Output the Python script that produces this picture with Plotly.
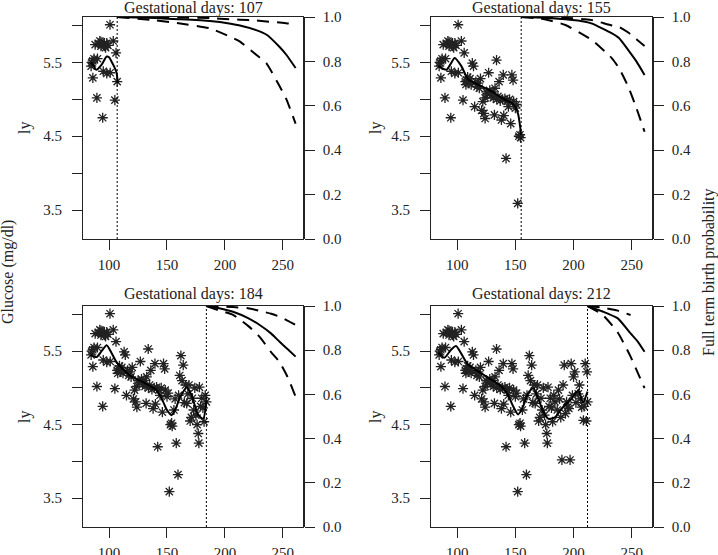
import plotly.graph_objects as go

# observed log-glucose values (ly) by gestational day
obs_day = [84.5, 85, 86, 86, 87, 88, 89.5, 90, 91, 92, 93, 93, 94.5, 95, 96, 96, 97, 98, 98, 99,
           100.8, 101, 103.6, 105, 106, 107, 107.5,
           108, 109, 110, 111, 112, 113, 114, 115, 116, 117, 118, 119, 120, 121, 122, 123, 124,
           124, 125, 126, 127, 128, 129,
           130, 131, 132, 132.5, 133.8, 134, 135, 136, 137, 138, 139, 139.6, 140, 141, 142, 143,
           144, 145, 146, 147, 148, 148.5, 150, 151, 152, 153, 154, 154.5,
           156, 157, 158, 159.5, 160, 161, 162, 163, 164, 165, 166, 167, 168, 169, 170, 171, 172,
           173, 174, 175, 176, 177, 177.5, 178, 179, 180, 181, 182, 183, 184,
           186, 187, 188, 189, 190, 191, 192, 193, 194, 195, 196, 197, 198, 199, 200, 201, 202,
           204, 205, 206, 207, 208.5, 209, 210, 211, 211.5, 212]
obs_ly = [5.45, 5.5, 5.29, 5.52, 5.55, 5.74, 5.02, 5.55, 5.75, 5.79, 5.72, 5.78, 4.75, 5.38, 5.72,
          5.76, 5.7, 5.76, 5.35, 5.73,
          6.01, 5.36, 5.79, 4.99, 5.63, 5.24, 5.2,
          5.26, 5.3, 5.22, 5.28, 5.2, 5.49, 5.45, 4.9, 5.24, 5.17, 5.22, 5.15, 5.28, 4.85, 4.97,
          4.81, 4.74, 5.02, 5.1, 5.08, 5.36, 5.12, 5.05,
          5.1, 5.02, 4.79, 5.15, 5.53, 5.0, 5.04, 5.24, 4.98, 4.72, 5.0, 5.33, 4.78, 5.01, 4.2,
          4.97, 4.9, 5.0, 4.67, 5.33, 5.26, 4.97, 4.88, 4.93, 3.59, 4.5, 4.52, 4.48,
          4.7, 4.85, 4.25, 3.82, 4.9, 5.17, 5.44, 5.1, 5.31, 4.8, 5.04, 4.79, 4.92, 5.04, 4.55,
          4.6, 4.86, 4.7, 5.0, 4.63, 4.5, 4.38, 4.25, 5.01, 4.75, 4.86, 4.73, 4.54, 4.9, 4.81,
          4.7, 4.97, 4.85, 4.6, 4.02, 5.04, 5.31, 4.65, 4.81, 4.74, 4.72, 4.02, 5.33, 4.9, 5.15,
          5.22, 4.8, 4.92, 5.04, 4.85, 4.74, 4.56, 4.75, 5.33, 4.55, 5.22, 4.81]

panel_days = [107, 155, 184, 212]

# smoothed fit up to the current day
smooth_day_107 = [84, 86, 89, 93.6, 97.9, 100, 102.2, 104.5, 106.5, 107.5]
smooth_ly_107 = [5.5, 5.47, 5.40, 5.47, 5.58, 5.57, 5.51, 5.44, 5.36, 5.22]
smooth_day_155 = [84, 90.7, 94, 97.9, 103.6, 109.4, 118, 129.5, 138.1, 146.7, 150, 152.5, 155]
smooth_ly_155 = [5.45, 5.40, 5.47, 5.56, 5.45, 5.27, 5.2, 5.11, 5.02, 4.95, 4.9, 4.79, 4.52]
smooth_day_184 = [84, 89.3, 93.5, 97.9, 102, 106.5, 118, 129.5, 141, 146.7, 150, 153.9, 157,
                  161, 166.9, 171.2, 177, 181.3, 184]
smooth_ly_184 = [5.45, 5.42, 5.5, 5.58, 5.48, 5.35, 5.17, 5.08, 4.97, 4.81, 4.7, 4.63, 4.7,
                 4.86, 5.01, 4.9, 4.63, 4.58, 4.83]
smooth_day_212 = [84, 89, 94.7, 99, 103.4, 109.1, 117.7, 126.4, 138.1, 143.8, 148.1, 152.4,
                  156.7, 161, 165.4, 169.7, 174, 178.4, 184, 189.8, 198.5, 204.2, 208, 212]
smooth_ly_212 = [5.48, 5.41, 5.52, 5.57, 5.47, 5.32, 5.23, 5.14, 5.02, 4.9, 4.75, 4.64,
                 4.75, 4.93, 5.0, 4.85, 4.68, 4.58, 4.6, 4.72, 4.86, 4.97, 4.8, 4.95]

# full term birth probability (estimate, upper and lower band)
surv_day_107 = [107, 140, 160, 187, 205, 213, 227, 236, 247, 253, 261]
surv_mid_107 = [1.0, 0.995, 0.99, 0.982, 0.97, 0.962, 0.941, 0.92, 0.866, 0.83, 0.77]
surv_hi_107 = [1.0, 0.999, 0.998, 0.995, 0.99, 0.988, 0.984, 0.98, 0.975, 0.972, 0.965]
surv_lo_107 = [1.0, 0.985, 0.972, 0.949, 0.91, 0.889, 0.83, 0.79, 0.69, 0.63, 0.52]
surv_day_155 = [155, 175, 193, 210, 216, 233, 239, 247, 254, 261]
surv_mid_155 = [1.0, 0.997, 0.99, 0.979, 0.97, 0.926, 0.905, 0.851, 0.80, 0.739]
surv_hi_155 = [1.0, 0.999, 0.996, 0.99, 0.986, 0.962, 0.956, 0.93, 0.90, 0.869]
surv_lo_155 = [1.0, 0.99, 0.964, 0.915, 0.896, 0.814, 0.77, 0.686, 0.59, 0.483]
surv_day_184 = [184, 195, 207, 220, 230, 240, 247, 254, 261]
surv_mid_184 = [1.0, 0.99, 0.974, 0.945, 0.914, 0.875, 0.839, 0.805, 0.771]
surv_hi_184 = [1.0, 0.998, 0.995, 0.99, 0.978, 0.965, 0.952, 0.934, 0.914]
surv_lo_184 = [1.0, 0.98, 0.96, 0.91, 0.86, 0.79, 0.748, 0.68, 0.59]
surv_day_212 = [212, 225, 238, 249, 255, 261]
surv_mid_212 = [1.0, 0.975, 0.944, 0.876, 0.84, 0.793]
surv_hi_212 = [1.0, 0.993, 0.979, 0.959, None, None]
surv_lo_212 = [1.0, 0.96, 0.88, 0.771, 0.70, 0.628]

smooths = [(smooth_day_107, smooth_ly_107), (smooth_day_155, smooth_ly_155),
           (smooth_day_184, smooth_ly_184), (smooth_day_212, smooth_ly_212)]
survs = [(surv_day_107, surv_mid_107, surv_hi_107, surv_lo_107),
         (surv_day_155, surv_mid_155, surv_hi_155, surv_lo_155),
         (surv_day_184, surv_mid_184, surv_hi_184, surv_lo_184),
         (surv_day_212, surv_mid_212, surv_hi_212, surv_lo_212)]

W, H = 718, 555
FONT = "Liberation Serif"
INK = "#222222"

x_doms = [[83 / W, 303 / W], [431 / W, 652 / W]]
y_doms = [[1 - 239 / H, 1 - 17 / H], [1 - 527 / H, 1 - 306 / H]]

fig = go.Figure()
layout = {}
annotations = []


def note(text, x_px, y_px, angle=0):
    return dict(text=text, xref="paper", yref="paper", x=x_px / W, y=1 - y_px / H,
                xanchor="center", yanchor="middle", textangle=angle, showarrow=False,
                font=dict(family=FONT, size=16, color=INK))


for k, d in enumerate(panel_days):
    n = k + 1
    xa, yl, yr = f"x{n}", f"y{2 * n - 1}", f"y{2 * n}"
    xd = x_doms[k % 2]
    yd = y_doms[k // 2]

    px = [a for a in obs_day if a <= d]
    py = [b for a, b in zip(obs_day, obs_ly) if a <= d]
    fig.add_trace(go.Scatter(x=px, y=py, mode="markers", xaxis=xa, yaxis=yl,
                             marker=dict(symbol="asterisk-open", size=8.5, color=INK,
                                         line=dict(width=1.3, color=INK)),
                             showlegend=False, cliponaxis=False))
    sx, sy = smooths[k]
    fig.add_trace(go.Scatter(x=sx, y=sy, mode="lines", xaxis=xa, yaxis=yl,
                             line=dict(color="black", width=2, shape="spline", smoothing=0.6),
                             showlegend=False))

    fig.add_trace(go.Scatter(x=[d, d], y=[0, 1], mode="lines", xaxis=xa, yaxis=yr,
                             line=dict(color="black", width=1, dash="2px,2px"),
                             showlegend=False))
    vd, mid, hi, lo = survs[k]
    fig.add_trace(go.Scatter(x=vd, y=mid, mode="lines", xaxis=xa, yaxis=yr,
                             line=dict(color="black", width=2, shape="spline", smoothing=0.5),
                             showlegend=False))
    for band in (hi, lo):
        fig.add_trace(go.Scatter(x=vd, y=band, mode="lines", xaxis=xa, yaxis=yr,
                                 line=dict(color="black", width=2, dash="12px,8px",
                                           shape="spline", smoothing=0.5),
                                 showlegend=False))

    tick_font = dict(family=FONT, size=15, color=INK)
    layout[f"xaxis{n}"] = dict(domain=xd, anchor=yl, range=[77.5, 267.4], automargin=False,
                               tickvals=[100, 150, 200, 250], ticks="outside", ticklen=10,
                               tickcolor=INK, showline=True, mirror=True, linecolor=INK,
                               linewidth=1, showgrid=False, zeroline=False,
                               tickfont=tick_font, ticklabelstandoff=2)
    layout[f"yaxis{2 * n - 1}"] = dict(domain=yd, anchor=xa, range=[3.108, 6.115],
                                       automargin=False,
                                       tickvals=[3.5, 4.0, 4.5, 5.0, 5.5, 6.0],
                                       ticktext=["3.5", "", "4.5", "", "5.5", ""],
                                       ticks="outside", ticklen=10, tickcolor=INK,
                                       showline=True, mirror=True, linecolor=INK,
                                       linewidth=1, showgrid=False, zeroline=False,
                                       tickfont=tick_font, ticklabelstandoff=7)
    layout[f"yaxis{2 * n}"] = dict(overlaying=yl, side="right", anchor=xa, range=[0, 1],
                                   automargin=False,
                                   tickvals=[0, 0.2, 0.4, 0.6, 0.8, 1.0],
                                   ticktext=["0.0", "0.2", "0.4", "0.6", "0.8", "1.0"],
                                   ticks="outside", ticklen=10, tickcolor=INK,
                                   showline=True, linecolor=INK, linewidth=1.5,
                                   showgrid=False, zeroline=False,
                                   tickfont=tick_font, ticklabelstandoff=5)

    annotations.append(note(f"Gestational days: {d}", (83 + 303) / 2 if k % 2 == 0 else
                            (431 + 652) / 2, 8 if k < 2 else 294))
    annotations.append(note("ly", 25 if k % 2 == 0 else 376, 128 if k < 2 else 417, -90))

annotations.append(note("Glucose (mg/dl)", 8, 272, -90))
annotations.append(note("Full term birth probability", 709, 272, -90))

fig.update_layout(width=W, height=H, margin=dict(l=0, r=0, t=0, b=0, autoexpand=False),
                  paper_bgcolor="white", plot_bgcolor="white",
                  annotations=annotations, showlegend=False, **layout)

fig.write_html("out.html", config={"displayModeBar": False},
               post_script="document.body.style.margin='0px';")
